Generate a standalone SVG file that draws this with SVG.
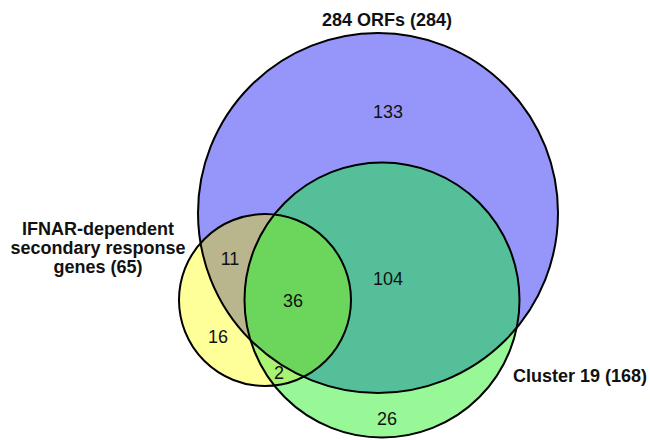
<svg xmlns="http://www.w3.org/2000/svg" width="650" height="440" viewBox="0 0 650 440">
<style>
.ln{fill:none;stroke:#000;stroke-width:2}
.num{font-family:"Liberation Sans",Arial,sans-serif;font-size:18px;fill:#111;text-anchor:middle}
.lab{font-family:"Liberation Sans",Arial,sans-serif;font-size:18px;font-weight:bold;fill:#111}
</style>
<defs>
<clipPath id="cB"><circle cx="378" cy="213" r="180"/></clipPath>
<clipPath id="cG"><circle cx="382" cy="300" r="137.5"/></clipPath>
<clipPath id="cY"><circle cx="265" cy="300" r="86"/></clipPath>
</defs>
<rect width="650" height="440" fill="#fff"/>
<g id="orfs">
<circle cx="378" cy="213" r="180" fill="#9696FA"/>
</g>
<g id="cluster19">
<circle cx="382" cy="300" r="137.5" fill="#98F898"/>
<circle cx="382" cy="300" r="137.5" fill="#55BF9A" clip-path="url(#cB)"/>
</g>
<g id="ifnar">
<circle cx="265" cy="300" r="86" fill="#FFFF99"/>
<g clip-path="url(#cY)">
<circle cx="378" cy="213" r="180" fill="#B9B68E"/>
<circle cx="382" cy="300" r="137.5" fill="#A8F274"/>
<g clip-path="url(#cB)"><circle cx="382" cy="300" r="137.5" fill="#6CD65C"/></g>
</g>
</g>
<g id="outlines">
<circle class="ln" cx="378" cy="213" r="180"/>
<circle class="ln" cx="382" cy="300" r="137.5"/>
<circle class="ln" cx="265" cy="300" r="86"/>
</g>
<g id="labels">
<text class="lab" x="387" y="26" text-anchor="middle">284 ORFs (284)</text>
<text class="lab" x="98" y="235" text-anchor="middle">IFNAR-dependent</text>
<text class="lab" x="98" y="254" text-anchor="middle">secondary response</text>
<text class="lab" x="98" y="273" text-anchor="middle">genes (65)</text>
<text class="lab" x="513" y="382">Cluster 19 (168)</text>
</g>
<g id="counts">
<text class="num" x="388" y="118">133</text>
<text class="num" x="388" y="285">104</text>
<text class="num" x="230" y="265">11</text>
<text class="num" x="293" y="307">36</text>
<text class="num" x="218" y="343">16</text>
<text class="num" x="279" y="379">2</text>
<text class="num" x="387" y="425">26</text>
</g>
</svg>
